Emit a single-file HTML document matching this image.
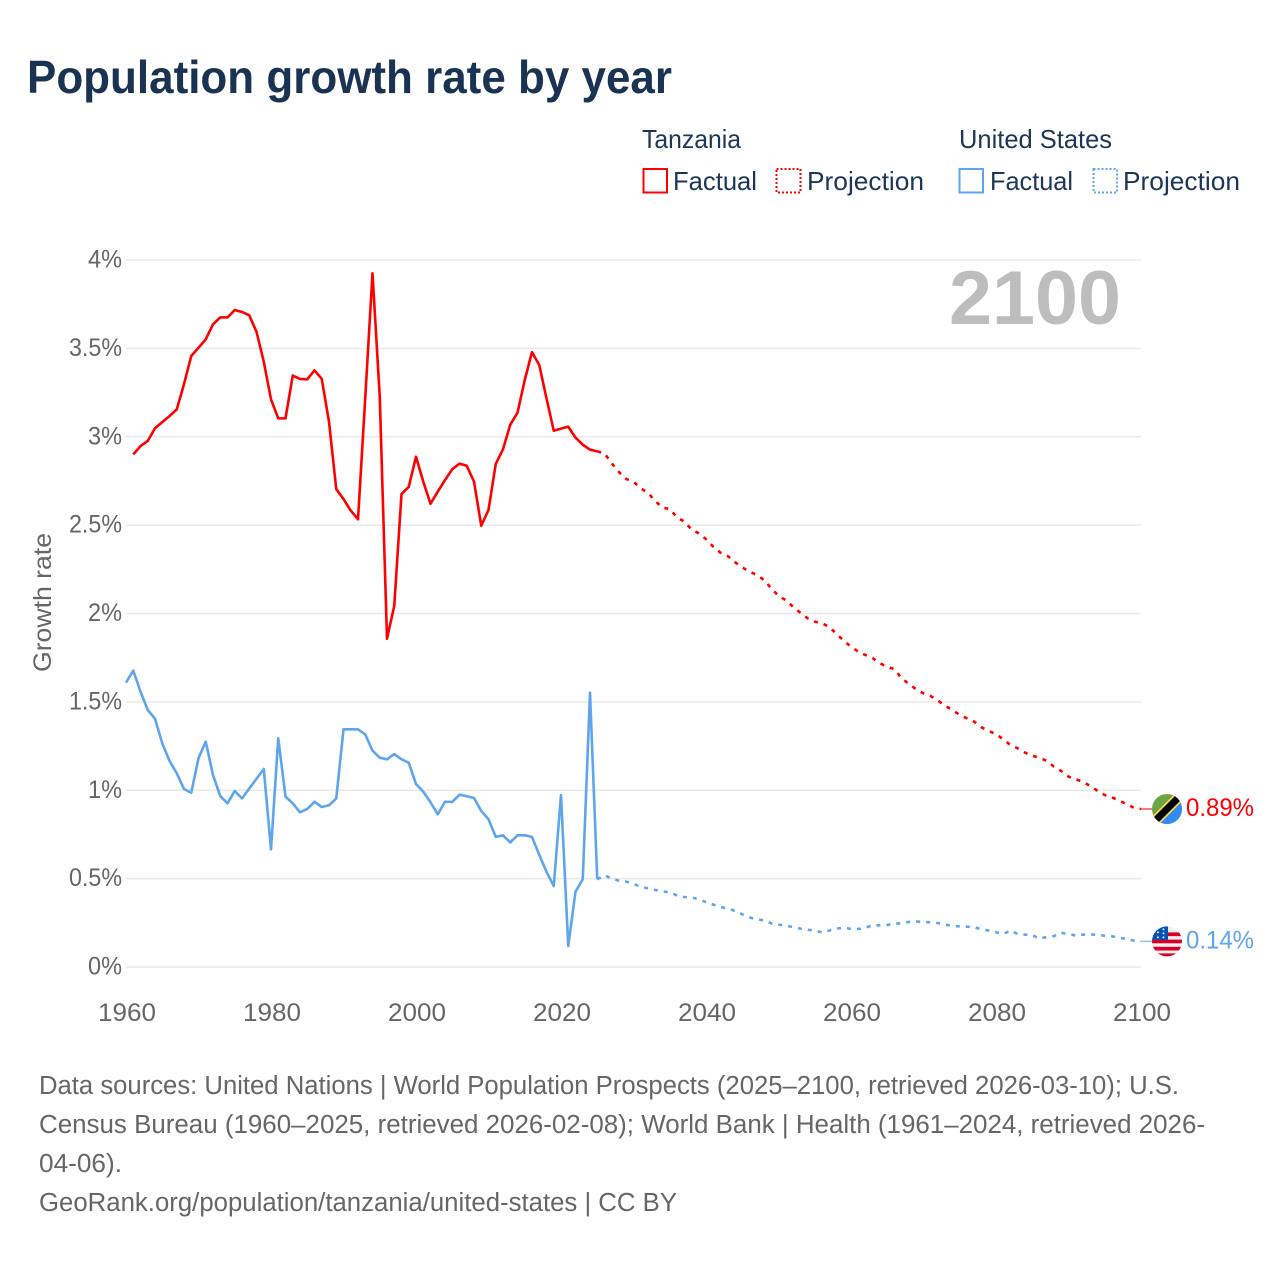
<!DOCTYPE html>
<html lang="en">
<head>
<meta charset="utf-8">
<title>Population growth rate by year</title>
<style>
html,body{margin:0;padding:0;background:#fff}
svg{display:block}
text{font-family:"Liberation Sans",sans-serif}
.lg{font-size:26px;fill:#1d3557}
.ft{font-size:25.5px;fill:#666}
</style>
</head>
<body>
<svg id="chart" xmlns="http://www.w3.org/2000/svg" width="1280" height="1280" viewBox="0 0 1280 1280">
  <rect x="0" y="0" width="1280" height="1280" fill="#fff"/>
  <text x="27" y="93" font-size="46" font-weight="700" fill="#1a3353" textLength="645" lengthAdjust="spacingAndGlyphs">Population growth rate by year</text>

  <g>
    <text class="lg" x="642" y="148" textLength="99" lengthAdjust="spacingAndGlyphs">Tanzania</text>
    <text class="lg" x="959" y="148" textLength="153" lengthAdjust="spacingAndGlyphs">United States</text>
    <rect x="643.5" y="169" width="23.5" height="23.5" fill="none" stroke="#ff0000" stroke-width="2"/>
    <text class="lg" x="673" y="190" textLength="84" lengthAdjust="spacingAndGlyphs">Factual</text>
    <rect x="776.5" y="169" width="24" height="23.5" fill="none" stroke="#ff0000" stroke-width="2" stroke-dasharray="2 2"/>
    <text class="lg" x="807" y="190" textLength="117" lengthAdjust="spacingAndGlyphs">Projection</text>
    <rect x="959.5" y="169" width="23.5" height="23.5" fill="none" stroke="#5ea5ee" stroke-width="2"/>
    <text class="lg" x="990" y="190" textLength="83" lengthAdjust="spacingAndGlyphs">Factual</text>
    <rect x="1093.5" y="169" width="23.5" height="23.5" fill="none" stroke="#5ea5ee" stroke-width="2" stroke-dasharray="2 2"/>
    <text class="lg" x="1123" y="190" textLength="117" lengthAdjust="spacingAndGlyphs">Projection</text>
  </g>

  <g id="grid"></g>
  <g id="yticks"></g>
  <g id="xticks"></g>

  <text transform="translate(51 672) rotate(-90)" x="0" y="0" font-size="25" fill="#666" textLength="139" lengthAdjust="spacingAndGlyphs">Growth rate</text>
  <text x="949" y="324" font-size="76" font-weight="700" fill="#bdbdbd" textLength="172" lengthAdjust="spacingAndGlyphs">2100</text>

  <g id="series"></g>

  <g id="flag-tz">
    <defs>
      <clipPath id="clip-tz"><circle cx="0" cy="0" r="15"/></clipPath>
      <clipPath id="clip-us"><circle cx="0" cy="0" r="15"/></clipPath>
    </defs>
    <g clip-path="url(#clip-tz)">
      <rect x="-16" y="-16" width="32" height="32" fill="#6da544"/>
      <polygon points="16,-16 16,16 -16,16" fill="#338af3"/>
      <line x1="-16" y1="16" x2="16" y2="-16" stroke="#ffda44" stroke-width="10.5"/>
      <line x1="-16" y1="16" x2="16" y2="-16" stroke="#000" stroke-width="7"/>
    </g>
  </g>
  <g id="flag-us">
    <g clip-path="url(#clip-us)">
      <rect x="-16" y="-16" width="32" height="32" fill="#f0f0f0"/>
      <rect x="-16" y="-9" width="32" height="3.7" fill="#d80027"/>
      <rect x="-16" y="-1.8" width="32" height="3.7" fill="#d80027"/>
      <rect x="-16" y="5.4" width="32" height="3.7" fill="#d80027"/>
      <rect x="-16" y="12" width="32" height="4" fill="#d80027"/>
      <polygon points="-15,-1.5 -15,-5 -11,-11 -4,-15 1,-15 1,-1.5" fill="#0052b4"/>
      <g fill="#f0f0f0">
        <circle cx="-9" cy="-9" r="1"/><circle cx="-3.5" cy="-12" r="1"/><circle cx="-3.5" cy="-8" r="1"/>
        <circle cx="-9" cy="-4" r="1"/><circle cx="-3.5" cy="-4" r="1"/>
      </g>
    </g>
  </g>
  <g id="end-labels"></g>

  <g>
    <text class="ft" x="39" y="1094" textLength="1140" lengthAdjust="spacingAndGlyphs">Data sources: United Nations | World Population Prospects (2025–2100, retrieved 2026-03-10); U.S.</text>
    <text class="ft" x="39" y="1133" textLength="1166" lengthAdjust="spacingAndGlyphs">Census Bureau (1960–2025, retrieved 2026-02-08); World Bank | Health (1961–2024, retrieved 2026-</text>
    <text class="ft" x="39" y="1172" textLength="83" lengthAdjust="spacingAndGlyphs">04-06).</text>
    <text class="ft" x="39" y="1211" textLength="638" lengthAdjust="spacingAndGlyphs">GeoRank.org/population/tanzania/united-states | CC BY</text>
  </g>
</svg>

<script>
// ---- Data (growth rate in % per year) ----
const yTickValues = [0, 0.5, 1, 1.5, 2, 2.5, 3, 3.5, 4];
const yTickLabels = ["0%", "0.5%", "1%", "1.5%", "2%", "2.5%", "3%", "3.5%", "4%"];
const xTickYears = [1960, 1980, 2000, 2020, 2040, 2060, 2080, 2100];

const tanzaniaFactualStart = 1961;
const tanzaniaFactual = [
  2.90, 2.947, 2.976, 3.048, 3.083, 3.117, 3.155, 3.298, 3.457, 3.504,
  3.551, 3.636, 3.675, 3.675, 3.717, 3.706, 3.687, 3.594, 3.425, 3.212,
  3.104, 3.104, 3.346, 3.327, 3.325, 3.376, 3.327, 3.085, 2.704, 2.648,
  2.582, 2.533, 3.22, 3.925, 3.227, 1.857, 2.044, 2.676, 2.716, 2.887,
  2.746, 2.621, 2.689, 2.755, 2.816, 2.848, 2.836, 2.746, 2.497, 2.586,
  2.846, 2.929, 3.068, 3.136, 3.321, 3.479, 3.406, 3.217, 3.034, 3.046,
  3.057, 2.995, 2.955, 2.927, 2.917
];
const tanzaniaProjectionStart = 2025;
const tanzaniaProjection = [
  2.917, 2.906, 2.85, 2.80, 2.761, 2.746, 2.708, 2.683, 2.636, 2.599,
  2.591, 2.544, 2.52, 2.476, 2.453, 2.421, 2.378, 2.344, 2.325, 2.29,
  2.261, 2.237, 2.218, 2.19, 2.142, 2.10, 2.076, 2.038, 2.005, 1.973,
  1.954, 1.944, 1.925, 1.884, 1.846, 1.812, 1.784, 1.765, 1.747, 1.718,
  1.699, 1.684, 1.633, 1.601, 1.571, 1.548, 1.533, 1.507, 1.477, 1.454,
  1.426, 1.407, 1.388, 1.356, 1.335, 1.318, 1.288, 1.256, 1.237, 1.213,
  1.196, 1.184, 1.166, 1.133, 1.109, 1.077, 1.062, 1.048, 1.024, 0.997,
  0.973, 0.96, 0.941, 0.922, 0.901, 0.894
];

const usFactualStart = 1960;
const usFactual = [
  1.609, 1.677, 1.558, 1.454, 1.405, 1.265, 1.167, 1.096, 1.007, 0.986,
  1.181, 1.275, 1.086, 0.967, 0.926, 0.996, 0.954, 1.009, 1.065, 1.12,
  0.666, 1.294, 0.964, 0.926, 0.875, 0.894, 0.935, 0.905, 0.915, 0.954,
  1.345, 1.345, 1.345, 1.316, 1.224, 1.184, 1.175, 1.205, 1.175, 1.156,
  1.035, 0.992, 0.932, 0.864, 0.935, 0.934, 0.975, 0.966, 0.956, 0.883,
  0.836, 0.736, 0.745, 0.705, 0.745, 0.745, 0.736, 0.634, 0.539, 0.458,
  0.973, 0.119, 0.426, 0.496, 1.552, 0.496
];
const usProjectionStart = 2025;
const usProjection = [
  0.496, 0.519, 0.500, 0.488, 0.483, 0.470, 0.454, 0.445, 0.436, 0.428,
  0.422, 0.405, 0.396, 0.392, 0.385, 0.366, 0.353, 0.339, 0.332, 0.317,
  0.298, 0.281, 0.270, 0.264, 0.247, 0.240, 0.234, 0.226, 0.217, 0.211,
  0.206, 0.196, 0.206, 0.217, 0.223, 0.215, 0.215, 0.223, 0.236, 0.236,
  0.238, 0.243, 0.249, 0.255, 0.257, 0.255, 0.253, 0.249, 0.240, 0.232,
  0.230, 0.228, 0.226, 0.213, 0.206, 0.196, 0.187, 0.206, 0.187, 0.183,
  0.181, 0.160, 0.170, 0.175, 0.194, 0.185, 0.179, 0.183, 0.185, 0.181,
  0.177, 0.174, 0.164, 0.160, 0.149, 0.145
];

// ---- Axis functions ----
const NS = "http://www.w3.org/2000/svg";
function xScale(year) { return 126 + (year - 1960) * (1141 - 126) / (2100 - 1960); }
function yScale(v) { return 967 - v * (967 - 260) / 4; }

function pathFor(startYear, values) {
  return values.map(function (v, i) {
    return (i ? "L" : "M") + xScale(startYear + i).toFixed(2) + " " + yScale(v).toFixed(2);
  }).join(" ");
}

const gridG = document.getElementById("grid");
const yG = document.getElementById("yticks");
const xG = document.getElementById("xticks");
const seriesG = document.getElementById("series");
const endG = document.getElementById("end-labels");

yTickValues.forEach(function (v, i) {
  const line = document.createElementNS(NS, "line");
  
  
  line.setAttribute("x1", xScale(1960));
  line.setAttribute("x2", xScale(2100));
  line.setAttribute("y1", yScale(v));
  line.setAttribute("y2", yScale(v));
  line.setAttribute("stroke", "#e9e9e9");
  line.setAttribute("stroke-width", "1.5");
  gridG.appendChild(line);

  const t = document.createElementNS(NS, "text");
  
  
  t.setAttribute("x", 122);
  t.setAttribute("y", yScale(v) + 7.5);
  t.setAttribute("text-anchor", "end");
  t.setAttribute("font-size", "25");
  t.setAttribute("fill", "#666");
  t.setAttribute("textLength", yTickLabels[i].length > 2 ? 53 : 34);
  t.setAttribute("lengthAdjust", "spacingAndGlyphs");
  t.textContent = yTickLabels[i];
  yG.appendChild(t);
});

xTickYears.forEach(function (yr) {
  const t = document.createElementNS(NS, "text");
  
  
  t.setAttribute("x", xScale(yr) + 1);
  t.setAttribute("y", 1021);
  t.setAttribute("text-anchor", "middle");
  t.setAttribute("font-size", "25");
  t.setAttribute("fill", "#666");
  t.setAttribute("textLength", 58);
  t.setAttribute("lengthAdjust", "spacingAndGlyphs");
  t.textContent = String(yr);
  xG.appendChild(t);
});

function addLine(name, startYear, values, color, dash) {
  const p = document.createElementNS(NS, "path");
  
  
  p.setAttribute("d", pathFor(startYear, values));
  p.setAttribute("fill", "none");
  p.setAttribute("stroke", color);
  p.setAttribute("stroke-width", "2.6");
  p.setAttribute("stroke-linejoin", "round");
  if (dash) p.setAttribute("stroke-dasharray", dash);
  seriesG.appendChild(p);
}

const RED = "#ff0000";
const BLUE = "#5ea5ee";
addLine("tanzania-projection-line", tanzaniaProjectionStart, tanzaniaProjection, RED, "4 6");
addLine("tanzania-factual-line", tanzaniaFactualStart, tanzaniaFactual, RED, null);
addLine("us-projection-line", usProjectionStart, usProjection, BLUE, "4 6");
addLine("us-factual-line", usFactualStart, usFactual, BLUE, null);

function addEnd(name, flagId, values, color) {
  const last = values[values.length - 1];
  const y = yScale(last);

  const c = document.createElementNS(NS, "line");
  
  
  c.setAttribute("x1", xScale(2100));
  c.setAttribute("x2", xScale(2100) + 11);
  c.setAttribute("y1", y);
  c.setAttribute("y2", y);
  c.setAttribute("stroke", color);
  c.setAttribute("stroke-width", "1.5");
  c.setAttribute("stroke-opacity", "0.7");
  endG.appendChild(c);

  document.getElementById(flagId).setAttribute("transform", "translate(1167 " + y.toFixed(1) + ")");

  const t = document.createElementNS(NS, "text");
  
  
  t.setAttribute("x", 1186);
  t.setAttribute("y", y + 7);
  t.setAttribute("font-size", "25");
  t.setAttribute("fill", color);
  t.setAttribute("textLength", 68);
  t.setAttribute("lengthAdjust", "spacingAndGlyphs");
  t.textContent = (Math.round(last * 100) / 100).toFixed(2) + "%";
  endG.appendChild(t);
}
addEnd("tanzania", "flag-tz", tanzaniaProjection, RED);
addEnd("united-states", "flag-us", usProjection, BLUE);
</script>
</body>
</html>
